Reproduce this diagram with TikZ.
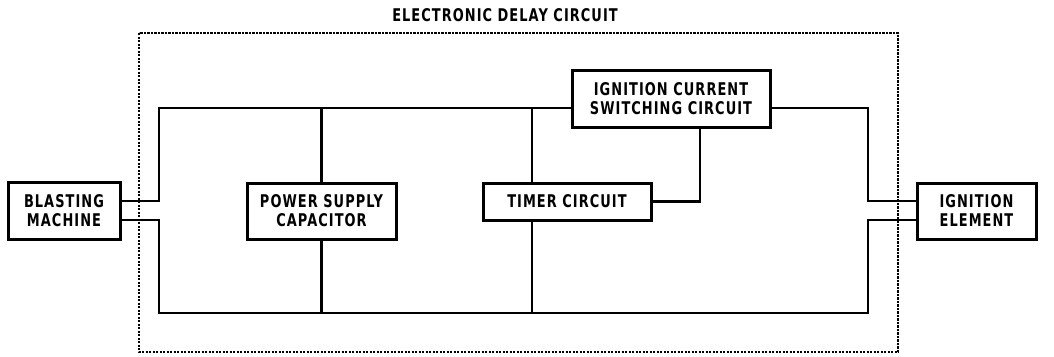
\documentclass[tikz,border=0pt]{standalone}
\usepackage{fontspec}
\newfontfamily\lblfont[FakeStretch=0.74,LetterSpace=6]{DejaVu Sans}
\begin{document}
\begin{tikzpicture}[x=1pt,y=-1pt,
  lbl/.style={font=\lblfont\bfseries\fontsize{17.5}{19}\selectfont},
  blk/.style={draw,line width=3pt,align=center,inner sep=0pt,lbl},
  wire/.style={line width=2.4pt},
  encl/.style={line width=2.8pt,dash pattern=on 2.4pt off 1.1pt}]
\useasboundingbox (0,0) rectangle (1054,356);
\node[lbl] (title) at (505,15) {ELECTRONIC DELAY CIRCUIT};
\draw[encl] (139,33) rectangle (898,352);
\node[blk,minimum width=112pt,minimum height=57pt] (bm) at (64,211) {BLASTING\\MACHINE};
\node[blk,minimum width=149pt,minimum height=56pt] (psc) at (321.5,211) {POWER SUPPLY\\CAPACITOR};
\node[blk,minimum width=168pt,minimum height=37pt] (timer) at (567,201.5) {TIMER CIRCUIT};
\node[blk,minimum width=198pt,minimum height=57pt] (ics) at (671,98.5) {IGNITION CURRENT\\SWITCHING CIRCUIT};
\node[blk,minimum width=119pt,minimum height=56pt] (ie) at (976.5,211) {IGNITION\\ELEMENT};
\coordinate (tl) at (159,108);
\coordinate (bl) at (159,313);
\coordinate (tr) at (868,108);
\coordinate (br) at (868,313);
\coordinate (tx) at (532,108);
\coordinate (bx) at (532,313);
\coordinate (sx) at (700,0);
\draw[wire] (bm.east |- 0,201) -| (tl) -- (ics.west |- tl);
\draw[wire] (bm.east |- 0,220) -| (bl) -- (br) |- (ie.west |- 0,220);
\draw[wire] (ics.east |- tr) -- (tr) |- (ie.west |- 0,201);
\draw[wire] (psc.north) -- (psc.north |- tl);
\draw[wire] (psc.south) -- (psc.south |- bl);
\draw[wire] (timer.north -| tx) -- (tx);
\draw[wire] (timer.south -| bx) -- (bx);
\draw[wire] (ics.south -| sx) |- (timer.east);
\end{tikzpicture}
\end{document}
